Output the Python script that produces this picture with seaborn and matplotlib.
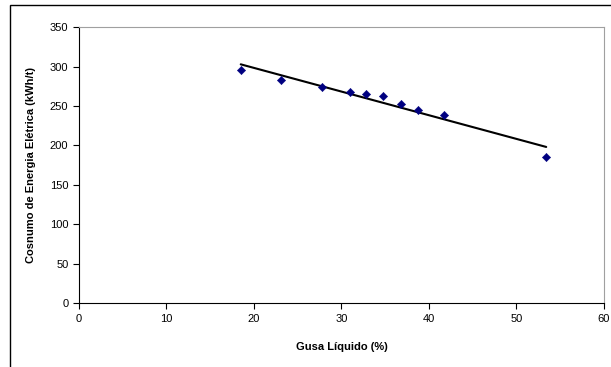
import numpy as np
import pandas as pd
import matplotlib
matplotlib.use('Agg')
import matplotlib.pyplot as plt
import seaborn as sns
from matplotlib.patches import Rectangle

gusa = [18.5, 23.1, 27.8, 31.0, 32.8, 34.8, 36.8, 38.8, 41.7, 53.4]
consumo = [296.3, 282.4, 273.5, 267.6, 264.7, 262.1, 252.0, 244.8, 238.1, 185.7]
df = pd.DataFrame({'gusa': gusa, 'consumo': consumo})

sns.set_style('white')
plt.rcParams['font.family'] = ['Liberation Sans', 'DejaVu Sans']
plt.rcParams['text.color'] = 'black'
plt.rcParams['axes.labelcolor'] = 'black'
plt.rcParams['xtick.color'] = 'black'
plt.rcParams['ytick.color'] = 'black'

fig = plt.figure(figsize=(6.11, 3.67), dpi=100)
ax = fig.add_axes([0.129, 0.174, 0.8595, 0.752])

# trendline (least squares, like Excel)
sns.regplot(data=df, x='gusa', y='consumo', ax=ax, ci=None, scatter=False,
            line_kws={'color': 'black', 'lw': 1.5})
sns.scatterplot(data=df, x='gusa', y='consumo', ax=ax, marker='D', s=18,
                color='#000080', edgecolor='#000080', zorder=3)

ax.set_xlim(0, 60)
ax.set_ylim(0, 350)
ax.set_xticks(range(0, 61, 10))
ax.set_yticks(range(0, 351, 50))
ax.tick_params(axis='both', labelsize=8, length=4, width=0.8, direction='out',
               bottom=True, left=True, color='black', labelcolor='black')
for s in ['top', 'right']:
    ax.spines[s].set_color('#a0a0a0')
    ax.spines[s].set_linewidth(0.8)
for s in ['left', 'bottom']:
    ax.spines[s].set_color('black')
    ax.spines[s].set_linewidth(0.8)

ax.set_xlabel('Gusa Líquido (%)', fontsize=8, fontweight='bold', labelpad=13)
ax.set_ylabel('Cosnumo de Energia Elétrica (kWh/t)', fontsize=8, fontweight='bold', labelpad=10)

fig.patches.append(Rectangle((10 / 611, -0.05), 1.2, 1 - 5 / 367 + 0.05,
                             transform=fig.transFigure, fill=False,
                             edgecolor='black', lw=1))

fig.savefig('out.png', dpi=100)
